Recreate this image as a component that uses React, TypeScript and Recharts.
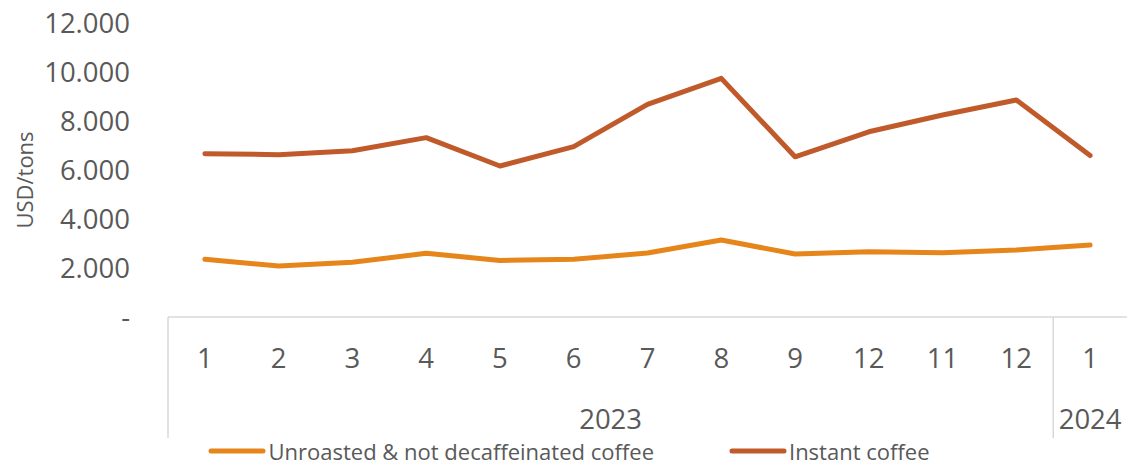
import React from 'react';
import { LineChart, Line, XAxis, YAxis, Legend } from 'recharts';

const MONTHS = ['1', '2', '3', '4', '5', '6', '7', '8', '9', '12', '11', '12', '1'];
const YEARS = ['2023', '2023', '2023', '2023', '2023', '2023', '2023', '2023', '2023', '2023', '2023', '2023', '2024'];
const UNROASTED = [2354, 2082, 2231, 2599, 2310, 2354, 2610, 3140, 2571, 2665, 2625, 2735, 2939];
const INSTANT = [6665, 6626, 6788, 7320, 6163, 6951, 8680, 9740, 6540, 7560, 8245, 8857, 6590];
const Y_TICKS = [0, 2000, 4000, 6000, 8000, 10000, 12000];
const SERIES_NAMES = ['Unroasted & not decaffeinated coffee', 'Instant coffee'];

const COLOR_UNROASTED = '#E6851A';
const COLOR_INSTANT = '#C05A2B';
const TEXT = '#595959';
const AXIS = '#D9D9D9';

const W = 1132;
const H = 466;
const Y_AXIS_W = 168;
const X_AXIS_H = 149;
const TOP = 23;
const RIGHT = 5;
const N = MONTHS.length;
const PLOT_W = W - Y_AXIS_W - RIGHT;
const STEP = PLOT_W / N;
const FONT = "'Open Sans', sans-serif";

const data = MONTHS.map((m, i) => ({
  key: i,
  month: m,
  year: YEARS[i],
  unroasted: UNROASTED[i],
  instant: INSTANT[i],
}));

const fmtY = (v: number) => (v === 0 ? '-' : v.toLocaleString('de-DE'));

const XTick = (props: any) => {
  const { x, y, index } = props;
  const els: React.ReactNode[] = [];
  const left = x - STEP / 2;
  const isGroupStart = index === 0 || YEARS[index] !== YEARS[index - 1];
  if (isGroupStart) {
    els.push(<line key="sep" x1={left} x2={left} y1={y} y2={y + 121} stroke={AXIS} strokeWidth={1.5} />);
    let count = 0;
    for (let j = index; j < N && YEARS[j] === YEARS[index]; j++) count++;
    els.push(
      <text key="yr" x={left + (count * STEP) / 2} y={y + 112} textAnchor="middle" fill={TEXT} fontSize={27.5} fontFamily={FONT}>
        {YEARS[index]}
      </text>
    );
  }
  els.push(
    <text key="m" x={x} y={y + 51} textAnchor="middle" fill={TEXT} fontSize={27.5} fontFamily={FONT}>
      {MONTHS[index]}
    </text>
  );
  return <g>{els}</g>;
};

const YLabel = () => (
  <text transform="translate(33,180) rotate(-90)" textAnchor="middle" fill={TEXT} fontSize={22} fontFamily={FONT}>
    USD/tons
  </text>
);

const LegendContent = () => {
  const items = [
    { name: SERIES_NAMES[0], color: COLOR_UNROASTED },
    { name: SERIES_NAMES[1], color: COLOR_INSTANT },
  ];
  return (
    <div style={{ display: 'flex', justifyContent: 'center', gap: 75, height: 22, alignItems: 'center', paddingLeft: 6, fontFamily: FONT }}>
      {items.map((it) => (
        <div key={it.name} style={{ display: 'flex', alignItems: 'center' }}>
          <svg width={58} height={10} style={{ display: 'block' }}>
            <line x1={3} x2={55} y1={5} y2={5} stroke={it.color} strokeWidth={5} strokeLinecap="round" />
          </svg>
          <span style={{ fontSize: 22, color: TEXT, marginLeft: 2, lineHeight: '22px' }}>{it.name}</span>
        </div>
      ))}
    </div>
  );
};

export default function App() {
  return (
    <div style={{ position: 'absolute', left: 0, top: 0, width: W, height: H, background: '#fff', fontFamily: FONT }}>
      <LineChart width={W} height={H} data={data} margin={{ top: TOP, right: RIGHT, bottom: 0, left: 0 }}>
        <XAxis
          dataKey="key"
          type="category"
          height={X_AXIS_H}
          padding={{ left: STEP / 2, right: STEP / 2 }}
          axisLine={{ stroke: AXIS, strokeWidth: 1.5 }}
          tickLine={false}
          tickSize={0}
          tickMargin={0}
          interval={0}
          tick={<XTick />}
        />
        <YAxis
          width={Y_AXIS_W}
          domain={[0, 12000]}
          ticks={Y_TICKS}
          interval={0}
          axisLine={false}
          tickLine={false}
          tickSize={0}
          tickMargin={38}
          tickFormatter={fmtY}
          tick={{ fill: TEXT, fontSize: 27.5, fontFamily: FONT }}
          label={{ content: () => <YLabel /> }}
        />
        <Legend
          verticalAlign="middle"
          align="center"
          layout="horizontal"
          wrapperStyle={{ top: 440, left: 0, width: W }}
          content={() => <LegendContent />}
        />
        <Line
          type="linear"
          dataKey="unroasted"
          name={SERIES_NAMES[0]}
          stroke={COLOR_UNROASTED}
          strokeWidth={5}
          strokeLinecap="round"
          strokeLinejoin="round"
          dot={false}
          activeDot={false}
          isAnimationActive={false}
        />
        <Line
          type="linear"
          dataKey="instant"
          name={SERIES_NAMES[1]}
          stroke={COLOR_INSTANT}
          strokeWidth={5}
          strokeLinecap="round"
          strokeLinejoin="round"
          dot={false}
          activeDot={false}
          isAnimationActive={false}
        />
      </LineChart>
    </div>
  );
}
